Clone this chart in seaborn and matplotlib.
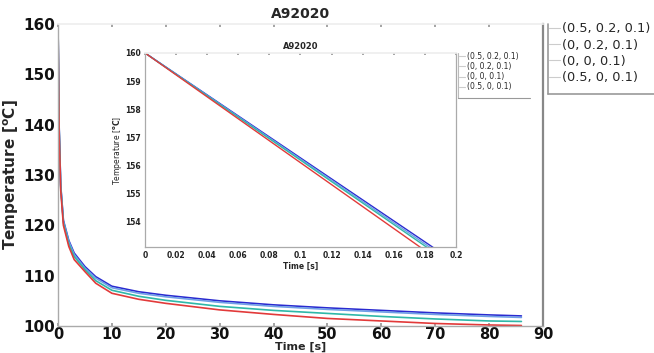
import numpy as np
import pandas as pd
import matplotlib
matplotlib.use("Agg")
import matplotlib.pyplot as plt
import seaborn as sns
from matplotlib.lines import Line2D

# ---- data ----
series_labels = ["(0.5, 0.2, 0.1)", "(0, 0.2, 0.1)", "(0, 0, 0.1)", "(0.5, 0, 0.1)"]
series_colors = ["#2a2ad0", "#6f9fe6", "#2fb8a8", "#e23a3a"]

time_main = [0, 0.2, 0.5, 1, 2, 3, 5, 7, 10, 15, 20, 30, 40, 50, 60, 70, 80, 86]
temp_a = [160, 140, 128, 121, 117, 114.5, 111.8, 109.8, 107.9, 106.8, 106.1, 105.0, 104.2, 103.6, 103.1, 102.6, 102.2, 102.0]
temp_b = [160, 139.8, 127.8, 120.8, 116.8, 114.2, 111.5, 109.5, 107.6, 106.5, 105.8, 104.7, 103.9, 103.3, 102.8, 102.3, 101.9, 101.7]
temp_c = [160, 139.5, 127.5, 120.5, 116.3, 113.8, 111.2, 109.0, 107.1, 105.9, 105.1, 103.9, 103.1, 102.5, 101.9, 101.4, 101.0, 100.9]
temp_d = [160, 139, 127, 120, 115.8, 113.2, 110.8, 108.5, 106.5, 105.3, 104.5, 103.2, 102.3, 101.5, 101.0, 100.5, 100.2, 100.1]

time_inset = [0, 0.1, 0.2]
inset_a = [160, 156.27, 152.54]
inset_b = [160, 156.23, 152.46]
inset_c = [160, 156.19, 152.38]
inset_d = [160, 156.10, 152.20]

main_xticks = [0, 10, 20, 30, 40, 50, 60, 70, 80, 90]
main_yticks = [100, 110, 120, 130, 140, 150, 160]
inset_xticks = [0, 0.02, 0.04, 0.06, 0.08, 0.1, 0.12, 0.14, 0.16, 0.18, 0.2]
inset_xticklabels = ["0", "0.02", "0.04", "0.06", "0.08", "0.1", "0.12", "0.14", "0.16", "0.18", "0.2"]
inset_yticks = [154, 155, 156, 157, 158, 159, 160]

main_df = pd.concat([
    pd.DataFrame({"t": time_main, "T": v, "case": lab})
    for v, lab in zip([temp_a, temp_b, temp_c, temp_d], series_labels)
])
inset_df = pd.concat([
    pd.DataFrame({"t": time_inset, "T": v, "case": lab})
    for v, lab in zip([inset_a, inset_b, inset_c, inset_d], series_labels)
])

sns.set_theme(style="white")
plt.rcParams["font.family"] = ["DejaVu Sans"]

fig = plt.figure(figsize=(6.54, 3.53), dpi=100)
ax = fig.add_axes([0.0887, 0.0765, 0.7415, 0.8555])
palette = dict(zip(series_labels, series_colors))

sns.lineplot(data=main_df, x="t", y="T", hue="case", palette=palette, ax=ax,
             linewidth=1.2, legend=False, hue_order=series_labels)
ax.set_xlim(0, 90)
ax.set_ylim(100, 160)
ax.set_xticks(main_xticks)
ax.set_yticks(main_yticks)
ax.tick_params(axis="both", labelsize=11, length=2, pad=2, colors="#999999",
               labelcolor="#111111", direction="in", top=True, bottom=True)
ax.tick_params(axis="x", labelsize=10.5, pad=0.5)
for lab in ax.get_xticklabels() + ax.get_yticklabels():
    lab.set_fontweight("bold")
for s in ["left", "bottom"]:
    ax.spines[s].set_color("#aaaaaa")
    ax.spines[s].set_linewidth(1.0)
ax.spines["top"].set_color("#eeeeee")
ax.spines["right"].set_color("#888888")
ax.spines["right"].set_linewidth(1.6)
ax.set_title("A92020", fontsize=10, fontweight="bold", pad=4)
ax.set_xlabel("Time [s]", fontsize=8, fontweight="bold", va="bottom")
ax.xaxis.set_label_coords(0.5, -0.0765 / 0.8555 + 0.003, transform=ax.transAxes)
ax.set_ylabel("Temperature [$\\mathbf{^oC}$]", fontsize=11, fontweight="bold", labelpad=2)

# inset
ins = fig.add_axes([0.2217, 0.300, 0.4755, 0.550])
sns.lineplot(data=inset_df, x="t", y="T", hue="case", palette=palette, ax=ins,
             linewidth=1.0, legend=False, hue_order=series_labels)
ins.set_xlim(0, 0.2)
ins.set_ylim(153.1, 160)
ins.set_xticks(inset_xticks)
ins.set_xticklabels(inset_xticklabels)
ins.set_yticks(inset_yticks)
ins.tick_params(axis="both", labelsize=5.5, length=1.5, pad=3, colors="#999999",
                labelcolor="#222222", direction="in", top=True)
for lab in ins.get_xticklabels() + ins.get_yticklabels():
    lab.set_fontweight("bold")
for s in ["left", "bottom", "right"]:
    ins.spines[s].set_color("#aaaaaa")
    ins.spines[s].set_linewidth(0.9)
ins.spines["top"].set_color("#eeeeee")
ins.set_title("A92020", fontsize=6, fontweight="bold", pad=3)
ins.set_xlabel("Time [s]", fontsize=5.5, fontweight="bold", labelpad=1)
ins.set_ylabel("Temperature [$\\mathbf{^oC}$]", fontsize=5.5, labelpad=1)

# legends
handles = [Line2D([0], [0], color="#cccccc", lw=0.8) for _ in series_labels]
leg1 = fig.legend(handles, series_labels, loc="upper left", bbox_to_anchor=(0.838, 0.94),
                  frameon=False, fontsize=9.3, handlelength=0.8, handletextpad=0.2,
                  labelspacing=0.25, borderaxespad=0, borderpad=0.1)
fig.add_artist(Line2D([0.838, 0.838], [0.735, 0.932], color="#999999", lw=1.2))
fig.add_artist(Line2D([0.838, 1.0], [0.735, 0.735], color="#999999", lw=1.2))

leg2 = fig.legend(handles, series_labels, loc="upper left", bbox_to_anchor=(0.700, 0.855),
                  frameon=False, fontsize=5.5, handlelength=0.8, handletextpad=0.3,
                  labelspacing=0.15, borderaxespad=0, borderpad=0.1)
fig.add_artist(Line2D([0.700, 0.700], [0.722, 0.850], color="#bbbbbb", lw=0.8))
fig.add_artist(Line2D([0.700, 0.811], [0.722, 0.722], color="#999999", lw=0.8))

fig.savefig("out.png", dpi=100, facecolor="white")
